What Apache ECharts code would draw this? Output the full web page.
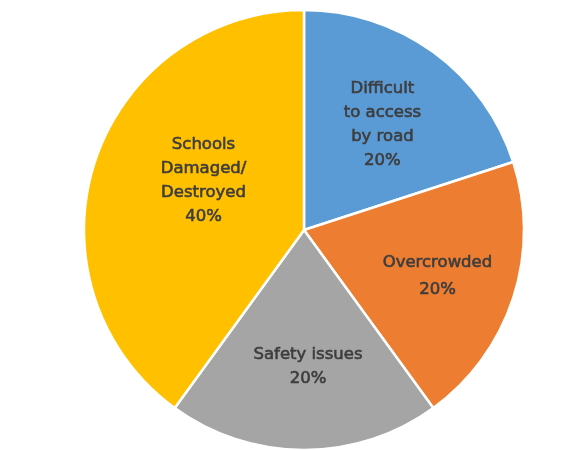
<!DOCTYPE html>
<html>
<head>
<meta charset="utf-8">
<script src="https://cdn.jsdelivr.net/npm/echarts@6/dist/echarts.min.js"></script>
<style>
  html, body { margin: 0; padding: 0; background: #ffffff; }
  #chart { width: 574px; height: 450px; }
</style>
</head>
<body>
<div id="chart"></div>
<script>
// Reasons schools are unusable (share of responses, %)
var categories = ['Difficult\nto access\nby road', 'Overcrowded', 'Safety issues', 'Schools\nDamaged/\nDestroyed'];
var shares = [20, 20, 20, 40];
var sliceColors = ['#5B9BD5', '#ED7D31', '#A5A5A5', '#FFC000'];

// Small per-slice nudges of the inside labels (pixels)
var labelNudge = [[12, -14], [26, 11], [4, 24], [7, -14]];

var chart = echarts.init(document.getElementById('chart'), null, { renderer: 'canvas' });

chart.setOption({
  backgroundColor: '#ffffff',
  animation: false,
  series: [{
    type: 'pie',
    center: [304, 230],
    radius: [0, 220],
    startAngle: 90,
    clockwise: true,
    avoidLabelOverlap: false,
    itemStyle: { borderColor: '#ffffff', borderWidth: 2.5 },
    label: {
      show: true,
      position: 'inside',
      formatter: function (p) { return p.name + '\n' + p.value + '%'; },
      color: '#3d3d3d',
      textBorderColor: '#3d3d3d',
      textBorderWidth: 0.6,
      fontFamily: 'DejaVu Sans',
      fontSize: 16.5,
      lineHeight: 24,
      align: 'center'
    },
    labelLayout: function (p) {
      var n = labelNudge[p.dataIndex];
      return { dx: n[0], dy: n[1] };
    },
    emphasis: { disabled: true },
    data: categories.map(function (c, i) {
      var item = { name: c, value: shares[i], itemStyle: { color: sliceColors[i] } };
      if (i === 1) item.label = { lineHeight: 27 };
      return item;
    })
  }]
});
</script>
</body>
</html>
